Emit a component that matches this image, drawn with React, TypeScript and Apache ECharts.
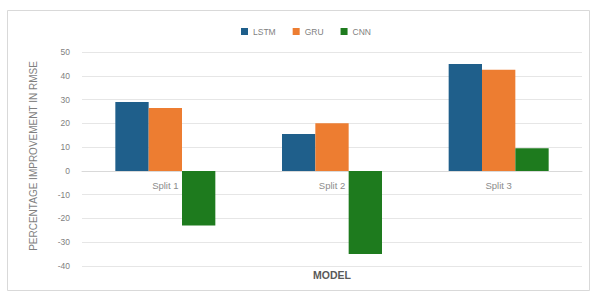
import React, { useEffect, useRef } from "react";
import * as echarts from "echarts";

const categories = ["Split 1", "Split 2", "Split 3"];
const lstm = [29, 15.5, 45];
const gru = [26.5, 20, 42.5];
const cnn = [-23, -35, 9.5];
const seriesNames = ["LSTM", "GRU", "CNN"];
const colors = ["#1f5f8b", "#ed7d31", "#1e7b1e"];

export default function App() {
  const ref = useRef<HTMLDivElement>(null);
  useEffect(() => {
    if (!ref.current) return;
    const chart = echarts.init(ref.current, null, { renderer: "svg" });
    const data = [lstm, gru, cnn];
    const gridTop = 52;
    const gridBottom = 29;
    const plotH = 295 - gridTop - gridBottom;
    const zeroOffset = -(plotH * 40) / 90;
    chart.setOption({
      animation: false,
      backgroundColor: "#ffffff",
      textStyle: { fontFamily: "Liberation Sans, Arial, sans-serif" },
      legend: {
        top: 22,
        left: 236,
        itemWidth: 7,
        itemHeight: 7,
        itemGap: 17,
        icon: "rect",
        textStyle: { fontSize: 8.5, color: "#7f7f7f" },
        data: seriesNames,
      },
      grid: { left: 82, right: 11, top: gridTop, bottom: gridBottom, containLabel: false },
      xAxis: {
        type: "category",
        data: categories,
        offset: zeroOffset,
        z: 0,
        axisLine: { show: true, onZero: false, lineStyle: { color: "#d9d9d9" } },
        axisTick: { show: false },
        axisLabel: { fontSize: 9.5, color: "#8c8c8c", margin: 10 },
      },
      yAxis: {
        type: "value",
        min: -40,
        max: 50,
        interval: 10,
        name: "PERCENTAGE IMPROVEMENT IN RMSE",
        nameLocation: "middle",
        nameRotate: 90,
        nameGap: 44,
        nameTextStyle: { fontSize: 10, color: "#7f7f7f", padding: [0, 0, 0, 6] },
        axisLine: { show: false },
        axisTick: { show: false },
        axisLabel: { fontSize: 8.5, color: "#7f7f7f", margin: 12 },
        splitLine: { lineStyle: { color: "#e6e6e6" } },
      },
      series: seriesNames.map((n, i) => ({
        name: n,
        type: "bar",
        z: 5,
        data: data[i],
        itemStyle: { color: colors[i] },
        barGap: "0%",
        barCategoryGap: "40%",
      })),
      graphic: [
        {
          type: "rect",
          shape: { x: 7.5, y: 10.5, width: 582, height: 280 },
          style: { fill: "none", stroke: "#d9d9d9", lineWidth: 1 },
          z: -1,
        },
        {
          type: "text",
          x: 332,
          y: 275,
          style: {
            text: "MODEL",
            fontSize: 10.5,
            fontWeight: "bold",
            fill: "#595959",
            align: "center",
            verticalAlign: "middle",
          },
        },
      ],
    });
    return () => chart.dispose();
  }, []);
  return (
    <div
      ref={ref}
      style={{ position: "fixed", left: 0, top: 0, width: 593, height: 295 }}
    />
  );
}
